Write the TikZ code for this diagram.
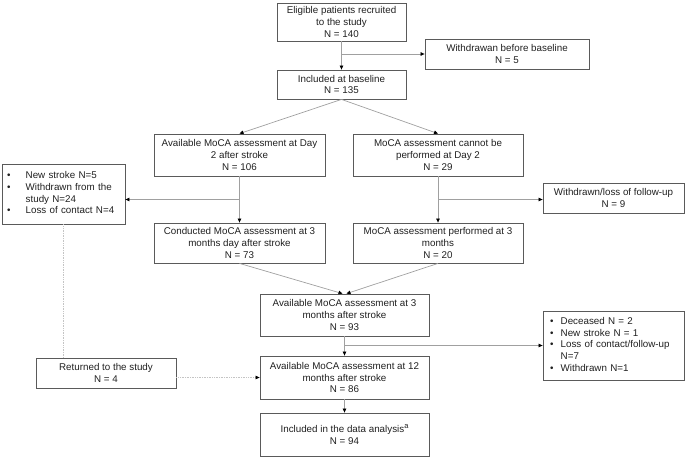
\documentclass[tikz,border=0pt]{standalone}
\usepackage{fontspec}
\setmainfont{Liberation Sans}
\usetikzlibrary{arrows.meta,calc}
\definecolor{boxline}{HTML}{5A5A5A}
\definecolor{conn}{HTML}{A0A0A0}
\definecolor{dotc}{HTML}{C4C4C4}
\definecolor{txt}{HTML}{202020}
\begin{document}
\begin{tikzpicture}[x=1pt,y=-1pt,
  every node/.style={font=\fontsize{9.8pt}{11.6pt}\selectfont, text=txt},
  box/.style={draw=boxline, line width=0.8pt, inner sep=0pt, align=center},
  listbox/.style={draw=boxline, line width=0.8pt, inner ysep=0pt, align=left},
  arr/.style={draw=conn, line width=0.7pt, -{Triangle[length=4pt,width=3.5pt,color=black]}},
  dotln/.style={draw=dotc, line width=0.7pt, densely dotted}]
\path[use as bounding box] (0,0) rectangle (685,458);

\node[box, minimum width=129pt, minimum height=38pt] (b1) at (341.5,22) {Eligible patients recruited\\to the study\\N = 140};
\node[box, minimum width=164pt, minimum height=30pt] (wb) at (507,54) {Withdrawan before baseline\\N = 5};
\node[box, minimum width=129pt, minimum height=29pt] (inc) at (341.5,84.5) {Included at baseline\\N = 135};
\node[box, minimum width=171pt, minimum height=42pt] (d2) at (239.5,155) {Available MoCA assessment at Day\\2 after stroke\\N = 106};
\node[box, minimum width=170pt, minimum height=42pt] (nd2) at (438,155) {MoCA assessment cannot be\\performed at Day 2\\N = 29};
\node[listbox, inner xsep=5pt, text width=113pt, minimum height=60pt] (lb) at (63.5,194)
  {\begin{tabular}{@{}p{18.7pt}@{}l@{}}
  • & New stroke N=5\\
  • & Withdrawn from the\\
    & study N=24\\
  • & Loss of contact N=4
  \end{tabular}};
\node[box, minimum width=141pt, minimum height=30pt] (wl) at (613.5,198) {Withdrawn/loss of follow-up\\N = 9};
\node[box, minimum width=171pt, minimum height=40pt] (c3) at (239.5,243) {Conducted MoCA assessment at 3\\months day after stroke\\N = 73};
\node[box, minimum width=170pt, minimum height=40pt] (p3) at (438,243) {MoCA assessment performed at 3\\months\\N = 20};
\node[box, minimum width=169pt, minimum height=42pt] (m3) at (344.5,315) {Available MoCA assessment at 3\\months after stroke\\N = 93};
\node[listbox, inner xsep=7pt, text width=127pt, minimum height=69pt] (dec) at (613.5,345.5)
  {\begin{tabular}{@{}p{10.7pt}@{}l@{}}
  • & Deceased N = 2\\
  • & New stroke N = 1\\
  • & Loss of contact/follow-up\\
    & N=7\\
  • & Withdrawn N=1
  \end{tabular}};
\node[box, minimum width=169pt, minimum height=43pt] (m12) at (344.5,377.5) {Available MoCA assessment at 12\\months after stroke\\N = 86};
\node[box, minimum width=140pt, minimum height=30pt] (ret) at (106,373) {Returned to the study\\N = 4};
\node[box, minimum width=169pt, minimum height=43pt] (an) at (344.5,434.5) {Included in the data analysis\raisebox{3.5pt}{\fontsize{7.5pt}{8pt}\selectfont a}\\N = 94};

% connectors
\draw[arr] (b1.south) -- (inc.north);
\draw[arr] (b1.south |- wb.west) -- (wb.west);
\draw[arr] (inc.south) -- (d2.north);
\draw[arr] (inc.south) -- (nd2.north);
\coordinate (j1) at ($(d2.south)!0.5!(c3.north)$);
\coordinate (j2) at ($(nd2.south)!0.5!(p3.north)$);
\draw[arr] (d2.south) -- (c3.north);
\draw[arr] (j1) -- (j1 -| lb.east);
\draw[arr] (nd2.south) -- (p3.north);
\draw[arr] (j2) -- (j2 -| wl.west);
\draw[arr] (c3.south) -- ([xshift=-2pt]m3.north);
\draw[arr] (p3.south) -- ([xshift=2pt]m3.north);
\draw[arr] (m3.south) -- (m12.north);
\draw[arr] (m3.south |- dec.west) -- (dec.west);
\draw[arr] (m12.south) -- (an.north);
\draw[dotln] (lb.south) -- (lb.south |- ret.north);
\draw[dotln, -{Triangle[length=4pt,width=3.5pt,color=black]}] (ret.east |- m12.west) -- (m12.west);
\end{tikzpicture}
\end{document}
